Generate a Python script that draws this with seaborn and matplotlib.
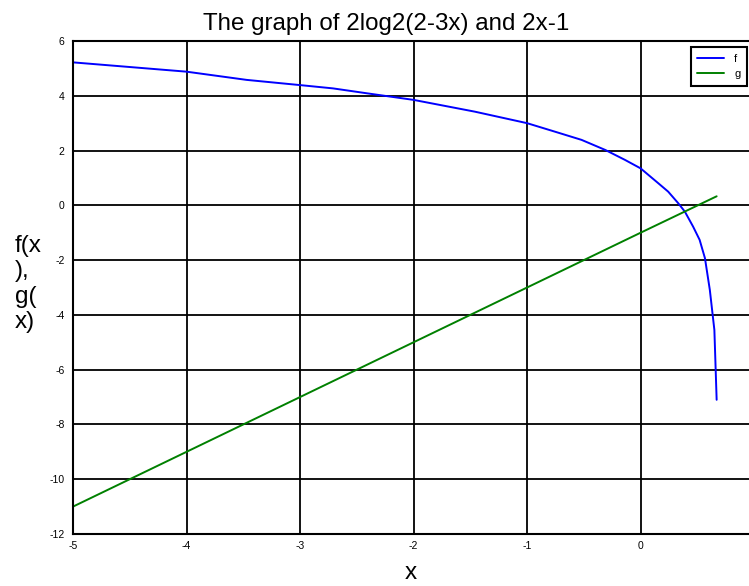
import matplotlib
matplotlib.use("Agg")
import matplotlib.pyplot as plt
import seaborn as sns
import pandas as pd

# values
f_x = [-5.0, -4.0, -3.47, -3.0, -2.71, -2.41, -2.0, -1.46, -1.0, -0.755, -0.52, -0.31,
       -0.138, 0.0, 0.155, 0.243, 0.331, 0.39, 0.463, 0.52, 0.567, 0.61, 0.65, 0.67]
f_y = [5.22, 4.88, 4.58, 4.39, 4.27, 4.09, 3.85, 3.42, 3.00, 2.69, 2.39, 2.02,
       1.66, 1.35, 0.81, 0.50, 0.08, -0.23, -0.78, -1.26, -1.93, -3.09, -4.55, -7.10]
g_x = [-5.0, -4.0, -3.0, -2.0, -1.0, 0.0, 0.67]
g_y = [-11.0, -9.0, -7.0, -5.0, -3.0, -1.0, 0.33]
x_ticks = [-5, -4, -3, -2, -1, 0]
y_ticks = [-12, -10, -8, -6, -4, -2, 0, 2, 4, 6]
title = "The graph of 2log2(2-3x) and 2x-1"

df = pd.concat([
    pd.DataFrame({"x": f_x, "y": f_y, "series": "f"}),
    pd.DataFrame({"x": g_x, "y": g_y, "series": "g"}),
])

sns.set_style("white")
plt.rcParams["font.family"] = ["Liberation Sans", "DejaVu Sans"]
plt.rcParams.update({"text.color": "black", "axes.labelcolor": "black",
                     "xtick.color": "black", "ytick.color": "black"})

W, H = 749, 586
fig = plt.figure(figsize=(W / 100, H / 100), dpi=100)
ax = fig.add_axes([73 / W, 1 - 534 / H, (W - 73) / W, (534 - 41) / H])

sns.lineplot(data=df, x="x", y="y", hue="series", palette={"f": "#0000ff", "g": "#008000"},
             ax=ax, linewidth=1.4, sort=True, estimator=None)

ax.set_xlim(-5, 0.955)
ax.set_ylim(-12, 6)
ax.set_xticks(x_ticks)
ax.set_yticks(y_ticks)
ax.set_xticklabels([str(t) for t in x_ticks], fontsize=7.5)
ax.set_yticklabels([str(t) for t in y_ticks], fontsize=7.5)
ax.tick_params(axis="y", length=0, pad=6, labelcolor="black")
ax.tick_params(axis="x", length=0, pad=5, labelcolor="black")
ax.grid(True, color="black", linewidth=1.3)
ax.set_axisbelow(True)
for side in ["left", "top", "bottom"]:
    ax.spines[side].set_color("black")
    ax.spines[side].set_linewidth(1.5)
ax.spines["right"].set_visible(False)

ax.set_xlabel("x", fontsize=17.5, labelpad=8, color="black")
ax.set_ylabel("")
fig.text(15 / W, 1 - 328 / H, "f(x\n),\ng(\nx)", fontsize=17.5, ha="left", va="baseline",
         linespacing=1.2, color="black")
fig.text(386.5 / W, 1 - 30 / H, title, fontsize=17.4, ha="center", va="baseline", color="black")

leg = ax.legend(loc="upper right", bbox_to_anchor=((747 - 73) / 676, (534 - 47) / 493),
                fontsize=8, frameon=True, fancybox=False, edgecolor="black",
                handlelength=2.4, borderpad=0.6, labelspacing=0.5, handletextpad=0.9,
                borderaxespad=0.0)
leg.get_frame().set_linewidth(1.5)
leg.get_frame().set_alpha(1)
for t in leg.get_texts():
    t.set_color("black")

fig.savefig("out.png", dpi=100)
